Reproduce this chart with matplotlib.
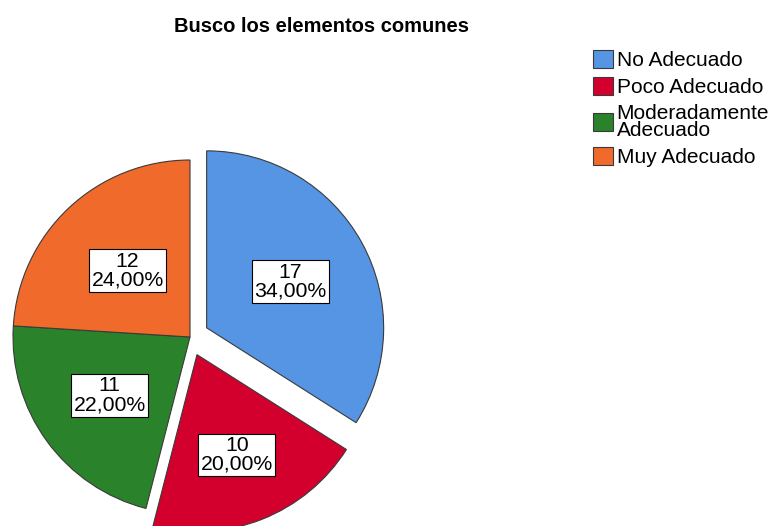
import numpy as np
import matplotlib
matplotlib.use("Agg")
import matplotlib.pyplot as plt

plt.rcParams['font.family'] = ['Liberation Sans', 'DejaVu Sans']

title = 'Busco los elementos comunes'
categories = ['No Adecuado', 'Poco Adecuado', 'Moderadamente\nAdecuado', 'Muy Adecuado']
counts = [17, 10, 11, 12]
colors = ['#5595E4', '#D3002E', '#2A832A', '#F06A2C']
explode = [19, 19, 0, 0]          # pixel offsets (axes are in pixel units)
label_dist = [0.54, 0.61, 0.56, 0.515]

total = sum(counts)

fig = plt.figure(figsize=(7.75, 5.26), dpi=100)
ax = fig.add_axes([0, 0, 1, 1])

wedges, texts, autotexts = ax.pie(
    counts, colors=colors, explode=explode, radius=177, center=(190, 189),
    startangle=90, counterclock=False,
    autopct=lambda p: '', pctdistance=0.55,
    wedgeprops=dict(edgecolor='#3a3a3a', linewidth=0.8),
)
ax.set_xlim(0, 775)
ax.set_ylim(0, 526)
ax.set_aspect('equal')
ax.axis('off')

for w, t, n, d in zip(wedges, autotexts, counts, label_dist):
    ang = np.deg2rad((w.theta1 + w.theta2) / 2)
    cx, cy = w.center
    t.set_position((cx + d * w.r * np.cos(ang), cy + d * w.r * np.sin(ang)))
    t.set_text(f'{n}\n{n / total * 100:.2f}%'.replace('.', ','))
    t.set_fontsize(15.3)
    t.set_linespacing(0.98)
    t.set_ha('center')
    t.set_va('center')
    t.set_bbox(dict(boxstyle='square,pad=0.12', fc='white', ec='black', lw=0.8))

fig.text(322 / 775, 1 - 27 / 526, title, ha='center', va='center',
         fontsize=14.5, fontweight='bold')

leg = fig.legend(wedges, categories, loc='upper left',
                 bbox_to_anchor=(593 / 775, 1 - 50 / 526),
                 frameon=False, fontsize=15, handlelength=0.96, handleheight=0.96,
                 handletextpad=0.18, labelspacing=0.33, borderpad=0, borderaxespad=0)
for txt in leg.get_texts():
    txt.set_linespacing(0.85)

fig.savefig('out.png', dpi=100)
